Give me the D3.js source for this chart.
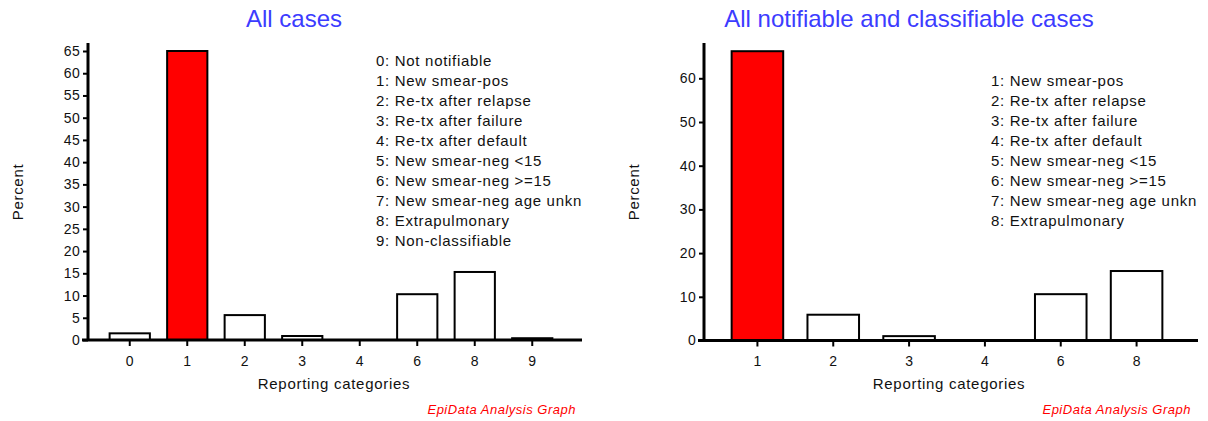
<!DOCTYPE html>
<html>
<head>
<meta charset="utf-8">
<script src="https://cdn.jsdelivr.net/npm/d3@7"></script>
<style>
  body { margin: 0; background: #fff; }
  svg { font-family: "Liberation Sans", Arial, sans-serif; }
</style>
</head>
<body>
<svg id="chart" width="1208" height="421"></svg>
<script>
// data
var leftCategories = ['0', '1', '2', '3', '4', '6', '8', '9'];
var leftValues = [1.5, 65, 5.6, 0.9, 0, 10.3, 15.3, 0.4];
var leftTicks = [0, 5, 10, 15, 20, 25, 30, 35, 40, 45, 50, 55, 60, 65];
var leftLegend = ['0: Not notifiable', '1: New smear-pos', '2: Re-tx after relapse',
  '3: Re-tx after failure', '4: Re-tx after default', '5: New smear-neg <15',
  '6: New smear-neg >=15', '7: New smear-neg age unkn', '8: Extrapulmonary',
  '9: Non-classifiable'];

var rightCategories = ['1', '2', '3', '4', '6', '8'];
var rightValues = [66.2, 5.9, 1.0, 0, 10.6, 15.9];
var rightTicks = [0, 10, 20, 30, 40, 50, 60];
var rightLegend = leftLegend.slice(1, 9);

var svg = d3.select('#chart');

function textStyle(sel){
  sel.style('font-size', '15px')
     .style('letter-spacing', '0.7px')
     .style('fill', '#111');
}

function drawPanel(opt){
  var g = svg.append('g');

  var yScale = d3.scaleLinear()
                 .domain([0, opt.yMax])
                 .range([opt.y0, opt.yTop]);

  var xScale = d3.scaleBand()
                 .domain(opt.categories)
                 .range([opt.bandStart, opt.bandEnd])
                 .paddingInner(opt.padInner)
                 .paddingOuter(opt.padOuter);

  // title
  g.append('text')
   .attr('x', opt.titleX)
   .attr('y', 27)
   .attr('text-anchor', 'middle')
   .style('font-size', '24px')
   .style('fill', '#3c3cff')
   .text(opt.title);

  // bars
  g.selectAll('rect.bar')
   .data(opt.values)
   .enter()
   .append('rect')
   .attr('class', 'bar')
   .attr('x', function(d, i){ return xScale(opt.categories[i]); })
   .attr('width', xScale.bandwidth())
   .attr('y', function(d){ return yScale(d); })
   .attr('height', function(d){ return opt.y0 - yScale(d); })
   .style('fill', function(d, i){ return opt.categories[i] == '1' ? '#ff0000' : '#ffffff'; })
   .style('stroke', 'black')
   .style('stroke-width', '2px');

  // y axis
  var yAxis = d3.axisLeft(yScale)
                .tickValues(opt.yTicks)
                .tickSize(5)
                .tickPadding(3);
  var ya = g.append('g')
            .attr('transform', 'translate(' + opt.axisX + ',0)')
            .call(yAxis);
  ya.select('.domain').remove();
  ya.selectAll('.tick line').style('stroke', 'black').style('stroke-width', '2px');
  ya.selectAll('.tick text').call(textStyle).style('font-size', '14px').style('letter-spacing', '0.3px');

  g.append('line')
   .attr('x1', opt.axisX)
   .attr('x2', opt.axisX)
   .attr('y1', opt.axisTop)
   .attr('y2', opt.y0 + 1)
   .style('stroke', 'black')
   .style('stroke-width', '3px');

  // x axis
  var xAxis = d3.axisBottom(xScale)
                .tickSize(6)
                .tickPadding(10);
  var xa = g.append('g')
            .attr('transform', 'translate(0,' + opt.y0 + ')')
            .call(xAxis);
  xa.select('.domain').remove();
  xa.selectAll('.tick line').style('stroke', 'black').style('stroke-width', '2px');
  xa.selectAll('.tick text').call(textStyle).style('font-size', '14px').style('letter-spacing', '0px');

  g.append('line')
   .attr('x1', opt.axisX - 6)
   .attr('x2', opt.axisRight)
   .attr('y1', opt.y0)
   .attr('y2', opt.y0)
   .style('stroke', 'black')
   .style('stroke-width', '3px');

  // axis titles
  g.append('text')
   .attr('transform', 'translate(' + opt.yLabelX + ',192) rotate(-90)')
   .attr('text-anchor', 'middle')
   .call(textStyle)
   .text('Percent');

  g.append('text')
   .attr('x', opt.xLabelX)
   .attr('y', 389)
   .attr('text-anchor', 'middle')
   .call(textStyle)
   .text('Reporting categories');

  // legend
  g.selectAll('text.legend')
   .data(opt.legend)
   .enter()
   .append('text')
   .attr('class', 'legend')
   .attr('x', opt.legendX)
   .attr('y', function(d, i){ return opt.legendY + i * 20; })
   .call(textStyle)
   .text(function(d){ return d; });

  // footer
  g.append('text')
   .attr('x', opt.footX)
   .attr('y', 414)
   .attr('text-anchor', 'end')
   .style('font-size', '13px')
   .style('letter-spacing', '0.5px')
   .style('font-style', 'italic')
   .style('fill', '#ff0000')
   .text('EpiData Analysis Graph');
}

drawPanel({
  title: 'All cases', titleX: 294,
  categories: leftCategories, values: leftValues, yTicks: leftTicks, yMax: 65,
  y0: 340, yTop: 51, axisTop: 43, axisX: 88, axisRight: 582,
  bandStart: 101, bandEnd: 561, padInner: 0.3, padOuter: 0.15,
  yLabelX: 23, xLabelX: 334, legend: leftLegend, legendX: 376, legendY: 66,
  footX: 576
});

drawPanel({
  title: 'All notifiable and classifiable cases', titleX: 909,
  categories: rightCategories, values: rightValues, yTicks: rightTicks, yMax: 60,
  y0: 340.5, yTop: 78.3, axisTop: 43, axisX: 704, axisRight: 1198,
  bandStart: 719.5, bandEnd: 1174.5, padInner: 0.32, padOuter: 0.16,
  yLabelX: 639, xLabelX: 949, legend: rightLegend, legendX: 991, legendY: 86,
  footX: 1191
});
</script>
</body>
</html>
